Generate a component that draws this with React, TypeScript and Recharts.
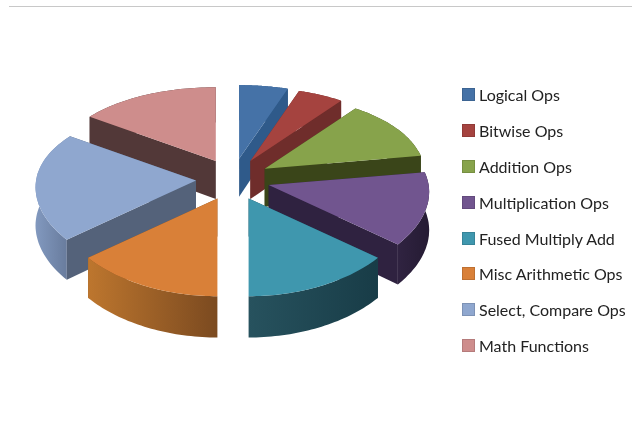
import React from "react";
import { PieChart, Pie, Legend } from "recharts";

const names = [
  "Logical Ops",
  "Bitwise Ops",
  "Addition Ops",
  "Multiplication Ops",
  "Fused Multiply Add",
  "Misc Arithmetic Ops",
  "Select, Compare Ops",
  "Math Functions",
];
const shares = [5.3, 5, 12.2, 13.6, 13.9, 13.9, 20.7, 15.4];

const topColors = ["#4572a7", "#a5433f", "#87a34b", "#71558f", "#3f97ae", "#d98038", "#8fa7cf", "#ce8d8c"];
const wallColors = ["#2f5a8a", "#6f2d2b", "#3a4519", "#2f2240", "#1f4a56", "#7d4d22", "#54627a", "#523838"];
const rimLeft = ["#2f5a8a", "#6f2d2b", "#3a4519", "#302341", "#27525e", "#bd762e", "#8299bf", "#523838"];
const rimRight = ["#2f5a8a", "#6f2d2b", "#3a4519", "#251b33", "#183c47", "#7b4a20", "#66799a", "#523838"];

// back slices get painted first so the front ones can overlap their walls
const paintOrder = [0, 1, 7, 2, 3, 6, 4, 5];

const tableData = names.map((name, i) => ({ name, value: shares[i], fill: topColors[i] }));

const RAD = Math.PI / 180;
const SQUASH = 0.525;
const EXPLODE_X = 37;
const EXPLODE_Y = 21;
const DEPTH = 38;

const Slice = (props: any) => {
  const { cx, cy, outerRadius, startAngle, endAngle, index } = props;
  const mid = ((startAngle + endAngle) / 2) * RAD;
  const ax = cx + EXPLODE_X * Math.cos(mid);
  const ay = cy - EXPLODE_Y * Math.sin(mid);

  // simple perspective, the near side of the disc is bigger
  const rimPoint = (deg: number, down: boolean) => {
    const u = Math.cos(deg * RAD);
    const v = Math.sin(deg * RAD);
    const x = ax + (outerRadius * u) / (1 + 0.08 * v);
    const y = ay - (outerRadius * SQUASH * v) / (1 + 0.14 * v);
    return [x, down ? y + DEPTH / (1 + 0.08 * v) : y];
  };

  const steps = 40;
  const arc: number[] = [];
  for (let s = 0; s <= steps; s++) arc.push(startAngle + ((endAngle - startAngle) * s) / steps);

  const toPath = (pts: number[][]) =>
    pts.map((p, i) => `${i ? "L" : "M"}${p[0].toFixed(1)},${p[1].toFixed(1)}`).join("") + "Z";

  const topPts = [[ax, ay], ...arc.map((d) => rimPoint(d, false))];
  const rimPts = [...arc.map((d) => rimPoint(d, false)), ...[...arc].reverse().map((d) => rimPoint(d, true))];
  const radialPts = (deg: number) => [
    [ax, ay],
    rimPoint(deg, false),
    rimPoint(deg, true),
    [ax, ay + DEPTH],
  ];
  const edges = [startAngle, endAngle].sort((a, b) => Math.sin(b * RAD) - Math.sin(a * RAD));
  const gradId = `rim-${index}`;

  return (
    <g>
      <defs>
        <linearGradient id={gradId} x1="0" y1="0" x2="1" y2="0">
          <stop offset="0%" stopColor={rimLeft[index]} />
          <stop offset="100%" stopColor={rimRight[index]} />
        </linearGradient>
      </defs>
      <path d={toPath(radialPts(edges[0]))} fill={wallColors[index]} />
      <path d={toPath(rimPts)} fill={`url(#${gradId})`} />
      <path d={toPath(radialPts(edges[1]))} fill={wallColors[index]} />
      <path d={toPath(topPts)} fill={topColors[index]} />
    </g>
  );
};

const LegendList = ({ payload }: any) => {
  const seen = new Set<string>();
  const items = (payload || []).filter((p: any) => {
    if (seen.has(p.value)) return false;
    seen.add(p.value);
    return true;
  });
  return (
    <div>
      {items.map((p: any) => (
        <div key={p.value} style={{ display: "flex", alignItems: "center", height: 35.8 }}>
          <span style={{ width: 11, height: 11, background: p.color, marginRight: 4, border: "1px solid rgba(0,0,0,0.12)" }} />
          <span style={{ fontFamily: "Lato", fontSize: 16, color: "#222", whiteSpace: "nowrap" }}>{p.value}</span>
        </div>
      ))}
    </div>
  );
};

const App = () => (
  <div style={{ position: "absolute", left: 0, top: 0, width: 632, height: 432, background: "#fff", overflow: "hidden" }}>
    <div style={{ position: "absolute", left: 9, right: 0, top: 6, height: 1, background: "#c8c8c8" }} />
    <div style={{ filter: "blur(0.5px)" }}>
      <PieChart width={632} height={432} margin={{ top: 0, right: 0, bottom: 0, left: 0 }}>
        {paintOrder.map((idx) => (
          <Pie
            key={idx}
            data={tableData}
            dataKey="value"
            nameKey="name"
            cx={233}
            cy={179.5}
            outerRadius={160}
            startAngle={90}
            endAngle={-270}
            stroke="none"
            isAnimationActive={false}
            shape={(p: any) => (p.index === idx ? <Slice {...p} /> : <g />)}
          />
        ))}
        <Legend
          layout="vertical"
          align="right"
          verticalAlign="top"
          itemSorter={null}
          content={<LegendList />}
          wrapperStyle={{ position: "absolute", left: 462, top: 77, width: 170 }}
        />
      </PieChart>
    </div>
  </div>
);

export default App;
